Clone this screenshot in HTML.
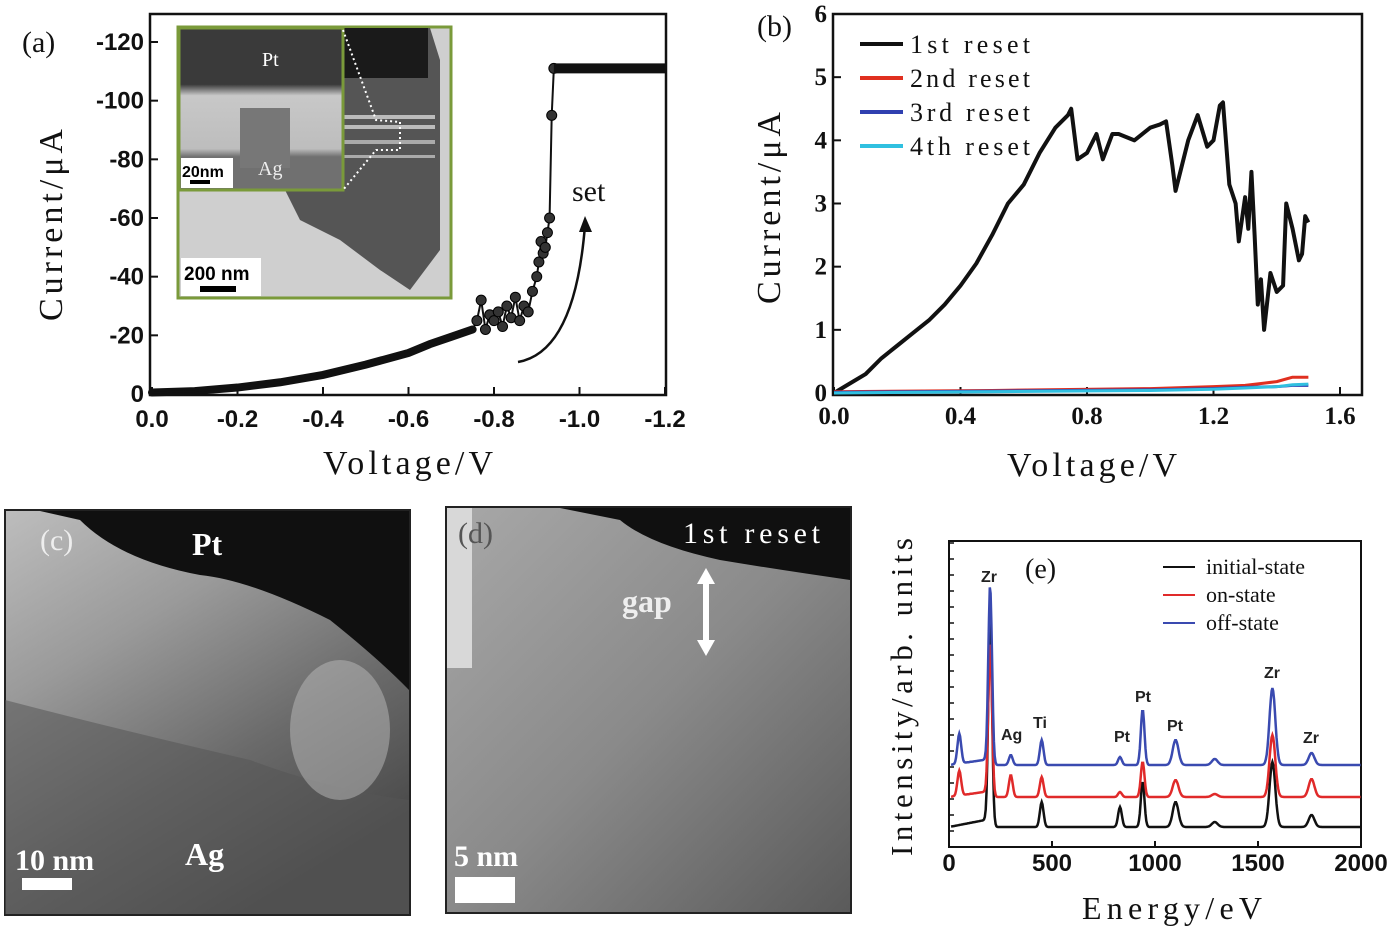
<!DOCTYPE html>
<html><head><meta charset="utf-8"><style>
html,body{margin:0;padding:0;background:#fff;}
svg{display:block}
.tk{font-family:"Liberation Sans",sans-serif;font-weight:bold;font-size:24px;fill:#111}
.ser{font-family:"Liberation Serif",serif;fill:#111}
</style></head><body>
<svg id="fig" width="1393" height="927" viewBox="0 0 1393 927" xmlns="http://www.w3.org/2000/svg">
<defs>
<linearGradient id="gc" x1="0" y1="0" x2="0.6" y2="1">
<stop offset="0" stop-color="#bdbdbd"/><stop offset="0.35" stop-color="#9a9a9a"/><stop offset="0.7" stop-color="#6a6a6a"/><stop offset="1" stop-color="#4a4a4a"/></linearGradient>
<linearGradient id="gd" x1="0" y1="0" x2="1" y2="1">
<stop offset="0" stop-color="#a8a8a8"/><stop offset="0.5" stop-color="#8a8a8a"/><stop offset="1" stop-color="#5a5a5a"/></linearGradient>
<linearGradient id="gi" x1="0" y1="0" x2="0" y2="1">
<stop offset="0" stop-color="#3a3a3a"/><stop offset="0.35" stop-color="#3a3a3a"/><stop offset="0.42" stop-color="#c8c8c8"/><stop offset="0.75" stop-color="#bdbdbd"/><stop offset="0.8" stop-color="#707070"/><stop offset="1" stop-color="#707070"/></linearGradient>
</defs>

<!-- Panel A -->
<g id="pa">
<text x="22" y="52" class="ser" font-size="30">(a)</text>
<text transform="translate(62,225) rotate(-90)" text-anchor="middle" class="ser" font-size="34" textLength="192" lengthAdjust="spacing">Current/μA</text>
<text x="408" y="474" text-anchor="middle" class="ser" font-size="34" textLength="170" lengthAdjust="spacing">Voltage/V</text>
<g id="pa-axes"></g>
<g id="pa-inset">
<rect x="178" y="27" width="273" height="271" fill="#cfcfcf" stroke="#7a9a3a" stroke-width="3"/>
<path d="M343,28 L430,28 L440,60 L440,250 L410,290 L380,270 L340,240 L300,220 L285,190 L343,190Z" fill="#555"/>
<rect x="343" y="28" width="85" height="50" fill="#1a1a1a"/>
<rect x="343" y="115" width="92" height="4" fill="#bbb"/><rect x="343" y="125" width="92" height="4" fill="#bbb"/><rect x="343" y="140" width="92" height="4" fill="#aaa"/><rect x="343" y="155" width="92" height="3" fill="#aaa"/>
<rect x="179" y="28" width="164" height="161" fill="url(#gi)"/>
<rect x="240" y="108" width="50" height="60" fill="#777"/>
<rect x="179" y="28" width="164" height="162" fill="none" stroke="#7a9a3a" stroke-width="3"/>
<path d="M343,30 L376,120 L400,122 L400,150 L376,150 L343,190" fill="none" stroke="#fff" stroke-width="2" stroke-dasharray="2,3"/>
<text x="262" y="66" class="ser" font-size="20" style="fill:#fff">Pt</text>
<text x="258" y="175" class="ser" font-size="20" style="fill:#eee">Ag</text>
<rect x="181" y="158" width="52" height="30" fill="#fff"/>
<text x="182" y="177" font-family="Liberation Sans" font-weight="bold" font-size="16">20nm</text>
<rect x="190" y="180" width="20" height="4" fill="#000"/>
<rect x="181" y="258" width="80" height="38" fill="#fff"/>
<text x="184" y="280" font-family="Liberation Sans" font-weight="bold" font-size="19">200 nm</text>
<rect x="200" y="286" width="36" height="6" fill="#000"/>
</g>
<g id="pa-data"></g>
<path d="M518,362 Q575,352 585,225" fill="none" stroke="#111" stroke-width="2.5"/>
<path d="M585,216 L579,232 L592,232Z" fill="#111"/>
<text x="572" y="201" class="ser" font-size="30">set</text>
</g>

<!-- Panel B -->
<g id="pb">
<text x="757" y="36" class="ser" font-size="30">(b)</text>
<text transform="translate(780,208) rotate(-90)" text-anchor="middle" class="ser" font-size="34" textLength="192" lengthAdjust="spacing">Current/μA</text>
<text x="1092" y="476" text-anchor="middle" class="ser" font-size="34" textLength="170" lengthAdjust="spacing">Voltage/V</text>
<g id="pb-axes"></g><g id="pb-data"></g>
<g id="pb-legend"></g>
</g>

<!-- Panel C -->
<g id="pc">
<rect x="5" y="510" width="405" height="405" fill="url(#gc)" stroke="#222" stroke-width="2"/>
<path d="M40,511 L409,511 L409,690 Q380,660 330,620 Q250,580 200,575 Q120,560 80,520 Z" fill="#101010"/>
<path d="M5,700 Q120,730 250,760 Q330,790 409,800 L409,914 L5,914Z" fill="#555" opacity="0.55"/>
<ellipse cx="340" cy="730" rx="50" ry="70" fill="#bbb" opacity="0.5"/>
<text x="40" y="550" class="ser" font-size="30" style="fill:#eee">(c)</text>
<text x="192" y="555" class="ser" font-weight="bold" font-size="32" style="fill:#fff">Pt</text>
<text x="185" y="865" class="ser" font-weight="bold" font-size="32" style="fill:#fff">Ag</text>
<text x="15" y="870" class="ser" font-weight="bold" font-size="30" style="fill:#fff">10 nm</text>
<rect x="22" y="878" width="50" height="12" fill="#fff"/>
</g>

<!-- Panel D -->
<g id="pd">
<rect x="446" y="507" width="405" height="406" fill="url(#gd)" stroke="#222" stroke-width="2"/>
<path d="M560,508 L850,508 L850,580 Q780,570 720,560 Q650,545 620,520 Z" fill="#101010"/>
<rect x="447" y="508" width="25" height="160" fill="#d8d8d8"/>
<text x="458" y="543" class="ser" font-size="30" style="fill:#555">(d)</text>
<text x="683" y="543" class="ser" font-size="30" textLength="137" lengthAdjust="spacing" style="fill:#fff">1st reset</text>
<text x="622" y="612" class="ser" font-weight="bold" font-size="32" style="fill:#eee">gap</text>
<path d="M706,568 L697,584 L703,584 L703,640 L697,640 L706,656 L715,640 L709,640 L709,584 L715,584Z" fill="#fff"/>
<text x="454" y="866" class="ser" font-weight="bold" font-size="30" style="fill:#fff">5 nm</text>
<rect x="455" y="877" width="60" height="26" fill="#fff"/>
</g>

<!-- Panel E -->
<g id="pe">
<text transform="translate(912,697) rotate(-90)" text-anchor="middle" class="ser" font-size="31" textLength="318" lengthAdjust="spacing">Intensity/arb. units</text>
<text x="1172" y="919" text-anchor="middle" class="ser" font-size="32" textLength="180" lengthAdjust="spacing">Energy/eV</text>
<text x="1025" y="578" class="ser" font-size="28">(e)</text>
<g id="pe-axes"></g><g id="pe-data"></g><g id="pe-legend"></g>
<g font-family="Liberation Sans" font-weight="bold" font-size="16" fill="#222">
<text x="981" y="582">Zr</text>
<text x="1001" y="740">Ag</text>
<text x="1033" y="728">Ti</text>
<text x="1114" y="742">Pt</text>
<text x="1135" y="702">Pt</text>
<text x="1167" y="731">Pt</text>
<text x="1264" y="678">Zr</text>
<text x="1303" y="743">Zr</text>
</g>
</g>
</svg>
<script>
const NS="http://www.w3.org/2000/svg";
function mk(tag,attrs,parent){const e=document.createElementNS(NS,tag);for(const k in attrs)e.setAttribute(k,attrs[k]);parent.appendChild(e);return e;}

// ---- Panel A data ----
const aVolt=[0,0.1,0.2,0.3,0.4,0.5,0.6,0.65,0.7,0.75,0.76,0.77,0.78,0.79,0.8,0.81,0.82,0.83,0.84,0.85,0.86,0.87,0.88,0.89,0.9,0.905,0.91,0.915,0.92,0.925,0.93,0.935,0.94];
const aCurr=[0.5,1,2.2,4,6.5,10,14,17,19.5,22,25,32,22,27,25,28,23,30,26,33,25,30,28,35,40,45,52,48,50,55,60,95,111];
const aSatV=[0.94,1.2];
const aSat=[111,111];
const aXTicks=[0,0.2,0.4,0.6,0.8,1.0,1.2];
const aXLabels=["0.0","-0.2","-0.4","-0.6","-0.8","-1.0","-1.2"];
const aYTicks=[0,20,40,60,80,100,120];
const aYLabels=["0","-20","-40","-60","-80","-100","-120"];
const ax=v=>152+v*(513/1.2), ay=i=>394-i*(352/120);
(function(){
 const g=document.getElementById('pa-axes');
 const box=mk('rect',{x:150,y:14,width:516,height:381,fill:'none',stroke:'#111','stroke-width':2.5},g);
 
 
 aXTicks.forEach((t,i)=>{mk('line',{x1:ax(t),x2:ax(t),y1:395,y2:387,stroke:'#111','stroke-width':2},g);
  const tx=mk('text',{x:ax(t),y:427,'text-anchor':'middle',class:'tk'},g);tx.textContent=aXLabels[i];
  
  });
 aYTicks.forEach((t,i)=>{mk('line',{x1:150,x2:158,y1:ay(t),y2:ay(t),stroke:'#111','stroke-width':2},g);
  const tx=mk('text',{x:144,y:ay(t)+8,'text-anchor':'end',class:'tk'},g);tx.textContent=aYLabels[i];
  
  });
 const d=document.getElementById('pa-data');
 let p='';aVolt.forEach((v,i)=>{if(aVolt[i]<=0.75)p+=(p?'L':'M')+ax(v)+','+ay(aCurr[i]);});
 const band=mk('path',{d:p,fill:'none',stroke:'#111','stroke-width':8,'stroke-linecap':'round'},d);
 
 
 let p2='';aVolt.forEach((v,i)=>{p2+=(p2?'L':'M')+ax(v)+','+ay(aCurr[i]);});
 const ln=mk('path',{d:p2,fill:'none',stroke:'#111','stroke-width':2},d);
 
 
 aVolt.forEach((v,i)=>{if(v>0.75){const c=mk('circle',{cx:ax(v),cy:ay(aCurr[i]),r:5,fill:'#333',stroke:'#000'},d);
  
  }});
 const s=mk('line',{x1:ax(aSatV[0]),x2:ax(aSatV[1]),y1:ay(aSat[0]),y2:ay(aSat[1]),stroke:'#111','stroke-width':10},d);
 
 
})();

// ---- Panel B data ----
const bVolt=[0,0.05,0.1,0.15,0.2,0.25,0.3,0.35,0.4,0.45,0.5,0.55,0.6,0.65,0.7,0.74,0.75,0.77,0.8,0.83,0.85,0.88,0.9,0.95,1.0,1.03,1.05,1.07,1.08,1.1,1.12,1.15,1.18,1.2,1.22,1.23,1.25,1.27,1.28,1.3,1.31,1.32,1.33,1.34,1.35,1.36,1.38,1.4,1.42,1.43,1.45,1.47,1.48,1.49,1.5];
const bReset1=[0,0.15,0.3,0.55,0.75,0.95,1.15,1.4,1.7,2.05,2.5,3.0,3.3,3.8,4.2,4.4,4.5,3.7,3.8,4.1,3.7,4.1,4.1,4.0,4.2,4.25,4.3,3.6,3.2,3.6,4.0,4.4,3.9,4.0,4.55,4.6,3.3,3.0,2.4,3.1,2.6,3.5,2.5,1.4,1.8,1.0,1.9,1.6,1.7,3.0,2.6,2.1,2.2,2.8,2.7];
const bVoltLow=[0,0.5,1.0,1.2,1.3,1.4,1.45,1.5];
const bReset2=[0.02,0.04,0.07,0.1,0.12,0.18,0.25,0.25];
const bReset3=[0.01,0.03,0.05,0.07,0.09,0.1,0.12,0.12];
const bReset4=[0,0.02,0.04,0.06,0.08,0.1,0.13,0.14];
const bXTicks=[0,0.4,0.8,1.2,1.6];
const bXLabels=["0.0","0.4","0.8","1.2","1.6"];
const bYTicks=[0,1,2,3,4,5,6];
const bNames=["1st reset","2nd reset","3rd reset","4th reset"];
const bColors=["#111","#e03020","#3040b0","#30c0e0"];
const bx=v=>834+v*(506/1.6), by=i=>393-i*(379/6);
(function(){
 const g=document.getElementById('pb-axes');
 const box=mk('rect',{x:833,y:14,width:529,height:381,fill:'none',stroke:'#111','stroke-width':2.5},g);
 
 
 bXTicks.forEach((t,i)=>{mk('line',{x1:bx(t),x2:bx(t),y1:395,y2:387,stroke:'#111','stroke-width':2},g);
  const tx=mk('text',{x:bx(t),y:424,'text-anchor':'middle',class:'ser','font-size':25,'font-weight':'bold'},g);tx.textContent=bXLabels[i];
  
  });
 bYTicks.forEach(t=>{mk('line',{x1:833,x2:841,y1:by(t),y2:by(t),stroke:'#111','stroke-width':2},g);
  const tx=mk('text',{x:827,y:by(t)+8,'text-anchor':'end',class:'ser','font-size':25,'font-weight':'bold'},g);tx.textContent=t;
  
  });
 const d=document.getElementById('pb-data');
 const series=[[bVolt,bReset1],[bVoltLow,bReset2],[bVoltLow,bReset3],[bVoltLow,bReset4]];
 series.forEach((s,k)=>{let p='';s[0].forEach((v,i)=>{p+=(p?'L':'M')+bx(v)+','+by(s[1][i]);});
  const e=mk('path',{d:p,fill:'none',stroke:bColors[k],'stroke-width':k==0?4:3,'stroke-linejoin':'round'},d);
  
  });
 const lg=document.getElementById('pb-legend');
 bNames.forEach((n,k)=>{const y=44+k*34;mk('line',{x1:860,x2:903,y1:y,y2:y,stroke:bColors[k],'stroke-width':4},lg);
  const t=mk('text',{x:910,y:y+9,class:'ser','font-size':26,textLength:120,lengthAdjust:'spacing'},lg);t.textContent=n;
  
  });
})();

// ---- Panel E data ----
const eXTicks=[0,500,1000,1500,2000];
const eNames=["initial-state","on-state","off-state"];
const eColors=["#111","#e02a2a","#3a4ab0"];
const eBase=[20,50,82];
const ePeakPos=[50,200,300,450,830,940,1100,1290,1570,1760];
const ePeakInit=[0,200,0,25,20,45,25,5,65,12];
const ePeakOn=[25,150,22,20,5,35,17,3,62,18];
const ePeakOff=[30,176,10,25,8,55,25,6,77,12];
const ex=e=>949+e*(412/2000), ey=v=>847-v;
(function(){
 const g=document.getElementById('pe-axes');
 const box=mk('rect',{x:949,y:541,width:412,height:306,fill:'none',stroke:'#111','stroke-width':2},g);
 
 
 eXTicks.forEach(t=>{mk('line',{x1:ex(t),x2:ex(t),y1:847,y2:841,stroke:'#111','stroke-width':2},g);
  const tx=mk('text',{x:ex(t),y:871,'text-anchor':'middle',class:'tk','font-size':20},g);tx.textContent=t;
  
  });
 for(let k=0;k<20;k++){mk('line',{x1:949,x2:954,y1:847-k*16,y2:847-k*16,stroke:'#111','stroke-width':1.5},g);}
 const d=document.getElementById('pe-data');
 [ePeakInit,ePeakOn,ePeakOff].forEach((pk,s)=>{let p='';
  for(let e=10;e<=2000;e+=4){let v=eBase[s]+(e<200?(s==0?8:6)*(e/200):0);
   ePeakPos.forEach((c,j)=>{const w=(c>1000?14:9);v+=pk[j]*Math.exp(-((e-c)*(e-c))/(2*w*w));});
   p+=(p?'L':'M')+ex(e).toFixed(1)+','+ey(v).toFixed(1);}
  const e=mk('path',{d:p,fill:'none',stroke:eColors[s],'stroke-width':2.5},d);
  
  });
 const lg=document.getElementById('pe-legend');
 eNames.forEach((n,k)=>{const y=567+k*28;mk('line',{x1:1163,x2:1195,y1:y,y2:y,stroke:eColors[k],'stroke-width':2},lg);
  const t=mk('text',{x:1206,y:y+7,class:'ser','font-size':22},lg);t.textContent=n;
  
  });
})();
</script>
</body></html>
